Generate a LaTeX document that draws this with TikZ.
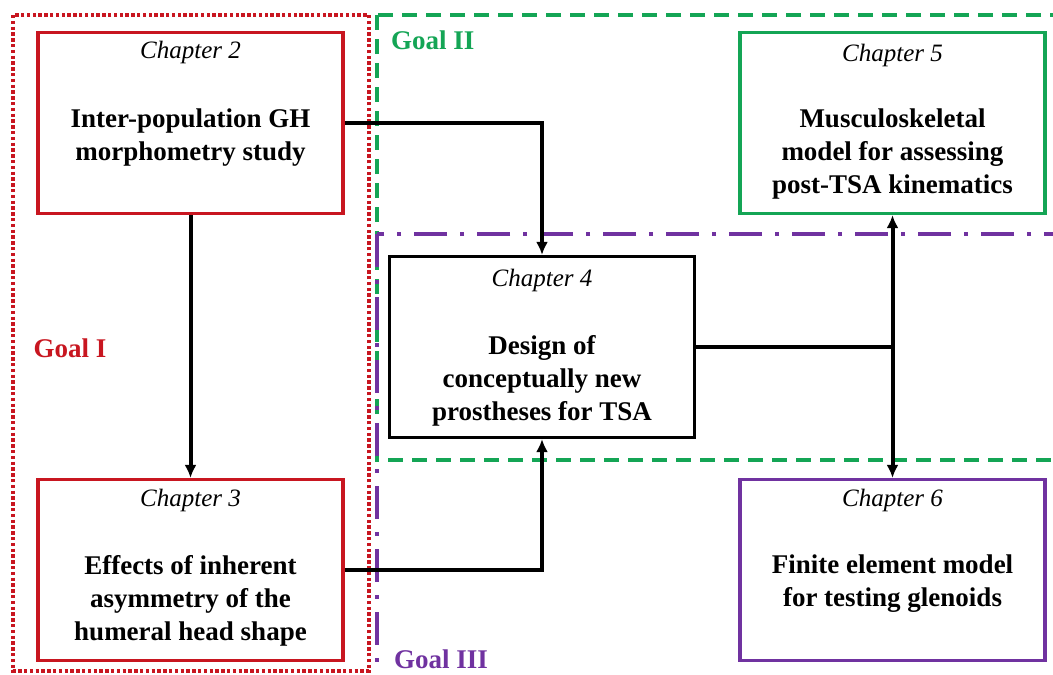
\documentclass[tikz,border=0pt]{standalone}
\usepackage{fontspec}
\setmainfont{Liberation Serif}
\usetikzlibrary{arrows.meta}
\definecolor{goalred}{RGB}{200,22,32}
\definecolor{goalgreen}{RGB}{20,165,85}
\definecolor{goalpurple}{RGB}{112,50,160}
\tikzset{
  chbox/.style={draw, line width=3.2pt, minimum width=305pt, minimum height=181pt, inner sep=0pt},
  chlabel/.style={font=\fontsize{25}{28}\selectfont\itshape, inner sep=0pt},
  chbody/.style={font=\fontsize{27}{33}\selectfont\bfseries, align=center, inner sep=0pt, anchor=north},
  goallabel/.style={font=\fontsize{27}{28}\selectfont\bfseries, inner sep=0pt},
  conn/.style={line width=4pt, -{Latex[length=13pt,width=12pt]}}
}
\begin{document}
\begin{tikzpicture}[x=1pt,y=-1pt]
\useasboundingbox (0,0) rectangle (1053,675);
\clip (0,0) rectangle (1053,675);
\fill[white] (0,0) rectangle (1053,675);
% goal regions
\draw[goalred, line width=3.6pt, dash pattern=on 3.4pt off 2.4pt] (13,15) rectangle (369,671);
\draw[goalgreen, line width=3.8pt, dash pattern=on 15pt off 9pt] (377,15) rectangle (1080,460);
\draw[goalpurple, line width=3.8pt, dash pattern=on 33pt off 13pt on 4pt off 13pt] (377,234) rectangle (1080,700);
% goal labels
\node[goallabel, text=goalred] (g1) at (70,348) {Goal I};
\node[goallabel, text=goalgreen, anchor=west] (g2) at (391,40) {Goal II};
\node[goallabel, text=goalpurple, anchor=west] (g3) at (394,659) {Goal III};
% chapter boxes
\node[chbox, draw=goalred, fill=white] (c2) at (190.5,123) {};
\node[chbox, draw=goalred, fill=white] (c3) at (190.5,570) {};
\node[chbox, draw=black, fill=white] (c4) at (542,347) {};
\node[chbox, draw=goalgreen, fill=white] (c5) at (892.5,123) {};
\node[chbox, draw=goalpurple, fill=white] (c6) at (892.5,570) {};
% labels
\node[chlabel] (l2) at ([yshift=-22pt]c2.north) {Chapter 2};
\node[chlabel] (l3) at ([yshift=-23pt]c3.north) {Chapter 3};
\node[chlabel] (l4) at ([yshift=-26pt]c4.north) {Chapter 4};
\node[chlabel] (l5) at ([yshift=-25pt]c5.north) {Chapter 5};
\node[chlabel] (l6) at ([yshift=-23pt]c6.north) {Chapter 6};
\node[chbody] (t2) at ([yshift=-78pt]c2.north) {Inter-population GH\\morphometry study};
\node[chbody] (t3) at ([yshift=-77pt]c3.north) {Effects of inherent\\asymmetry of the\\humeral head shape};
\node[chbody] (t4) at ([yshift=-80pt]c4.north) {Design of\\conceptually new\\prostheses for TSA};
\node[chbody] (t5) at ([yshift=-78pt]c5.north) {Musculoskeletal\\model for assessing\\post-TSA kinematics};
\node[chbody] (t6) at ([yshift=-77pt]c6.north) {Finite element model\\for testing glenoids};
% connectors
\draw[conn] (c2.south) -- (c3.north);
\draw[conn] (c2.east) -| (c4.north);
\draw[conn] (c3.east) -| (c4.south);
\draw[conn] (c4.east) -| (c5.south);
\draw[conn] (c4.east) -| (c6.north);
\end{tikzpicture}
\end{document}
